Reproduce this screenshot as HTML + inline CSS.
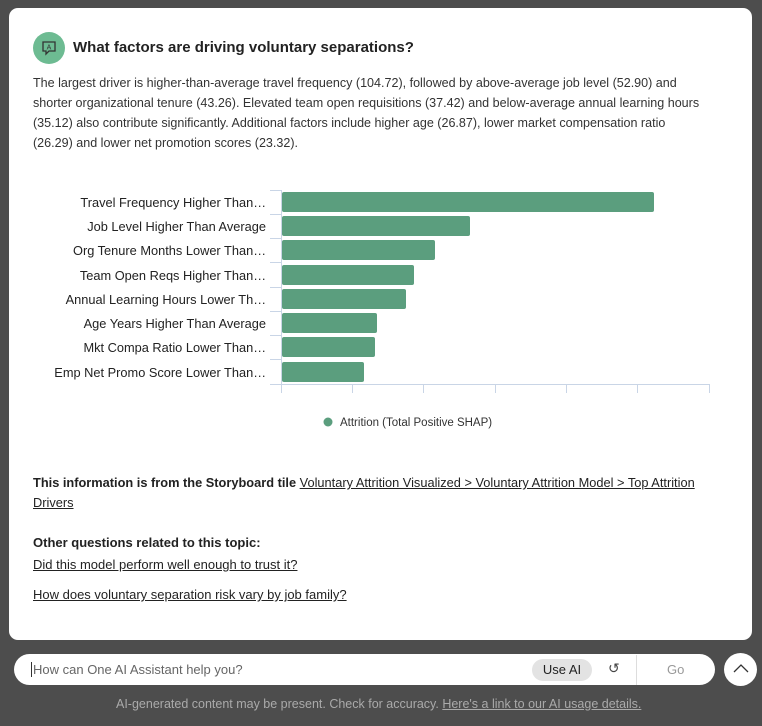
<!DOCTYPE html>
<html><head><meta charset="utf-8"><style>
body{margin:0;width:762px;height:726px;background:#4d4d4d;font-family:"Liberation Sans",sans-serif;position:relative;overflow:hidden;color:#222}
.card{position:absolute;left:9px;top:8px;width:743px;height:632px;background:#fff;border-radius:9px}
.t{position:absolute;white-space:nowrap}
a,.u{text-decoration:underline;color:#222}
</style></head><body>
<div class="card"></div>
<div class="t" style="left:33px;top:32px;width:32px;height:32px;border-radius:50%;background:#6dbb92"></div>
<svg class="t" style="left:41px;top:40px" width="16" height="16" viewBox="0 0 16 16"><path d="M2 2h12v9H8l-3 3v-3H2z" fill="none" stroke="#333" stroke-width="1.3"/><text x="8" y="9.5" font-size="7" text-anchor="middle" font-family="Liberation Sans" fill="#333">A</text></svg>
<div class="t" style="left:73px;top:39px;font-size:15px;font-weight:bold;color:#222">What factors are driving voluntary separations?</div>
<div class="t" style="left:33px;top:73px;font-size:12.55px;line-height:20px;color:#333">The largest driver is higher-than-average travel frequency (104.72), followed by above-average job level (52.90) and<br>shorter organizational tenure (43.26). Elevated team open requisitions (37.42) and below-average annual learning hours<br>(35.12) also contribute significantly. Additional factors include higher age (26.87), lower market compensation ratio<br>(26.29) and lower net promotion scores (23.32).</div>
<svg class="t" style="left:0;top:0" width="762" height="440">
<g font-family="Liberation Sans" font-size="12.8" fill="#222" text-anchor="end">
<text x="266" y="207">Travel Frequency Higher Than…</text>
<text x="266" y="231">Job Level Higher Than Average</text>
<text x="266" y="255">Org Tenure Months Lower Than…</text>
<text x="266" y="280">Team Open Reqs Higher Than…</text>
<text x="266" y="304">Annual Learning Hours Lower Th…</text>
<text x="266" y="328">Age Years Higher Than Average</text>
<text x="266" y="352">Mkt Compa Ratio Lower Than…</text>
<text x="266" y="377">Emp Net Promo Score Lower Than…</text>
</g>
<g stroke="#c9d5e6" stroke-width="1">
<line x1="281.5" y1="190" x2="281.5" y2="393"/>
<line x1="270" y1="384.5" x2="710" y2="384.5"/>
<path d="M270 190.5h12M270 214.5h12M270 238.5h12M270 262.5h12M270 287.5h12M270 311.5h12M270 335.5h12M270 359.5h12"/>
<path d="M352.5 384v9M423.5 384v9M495.5 384v9M566.5 384v9M637.5 384v9M709.5 384v9"/>
</g>
<g fill="#5b9e7e">
<rect x="282" y="192" width="372" height="20" rx="2"/>
<rect x="282" y="216" width="188" height="20" rx="2"/>
<rect x="282" y="240" width="153" height="20" rx="2"/>
<rect x="282" y="265" width="132" height="20" rx="2"/>
<rect x="282" y="289" width="124" height="20" rx="2"/>
<rect x="282" y="313" width="95" height="20" rx="2"/>
<rect x="282" y="337" width="93" height="20" rx="2"/>
<rect x="282" y="362" width="82" height="20" rx="2"/>
<circle cx="328" cy="422" r="4.5"/>
</g>
<text x="340" y="426" font-family="Liberation Sans" font-size="11.5" fill="#333">Attrition (Total Positive SHAP)</text>
</svg>
<div class="t" style="left:33px;top:473px;font-size:12.8px;line-height:20px"><b>This information is from the Storyboard tile</b> <span class="u">Voluntary Attrition Visualized &gt; Voluntary Attrition Model &gt; Top Attrition</span><br><span class="u">Drivers</span></div>
<div class="t" style="left:33px;top:535px;font-size:13px;font-weight:bold">Other questions related to this topic:</div>
<div class="t u" style="left:33px;top:557px;font-size:13px">Did this model perform well enough to trust it?</div>
<div class="t u" style="left:33px;top:587px;font-size:13px">How does voluntary separation risk vary by job family?</div>
<div class="t" style="left:14px;top:654px;width:701px;height:31px;background:#fff;border-radius:16px"></div>
<div class="t" style="left:31px;top:662px;font-size:13px;color:#666;border-left:1px solid #333;padding-left:1px">How can One AI Assistant help you?</div>
<div class="t" style="left:532px;top:659px;width:60px;height:22px;border-radius:11px;background:#e3e3e3;font-size:13px;text-align:center;line-height:22px">Use AI</div>
<div class="t" style="left:608px;top:660px;font-size:14px;color:#444">↺</div>
<div class="t" style="left:636px;top:655px;height:30px;border-left:1px solid #ddd"></div>
<div class="t" style="left:667px;top:662px;font-size:13px;color:#999">Go</div>
<div class="t" style="left:724px;top:653px;width:33px;height:33px;border-radius:50%;background:#fff"></div>
<svg class="t" style="left:732px;top:662px" width="18" height="14"><path d="M2 10l7-7 7 7" fill="none" stroke="#333" stroke-width="1.3"/></svg>
<div class="t" style="left:116px;top:697px;font-size:12.5px;color:#aaa">AI-generated content may be present. Check for accuracy. <span style="text-decoration:underline">Here's a link to our AI usage details.</span></div>
</body></html>
